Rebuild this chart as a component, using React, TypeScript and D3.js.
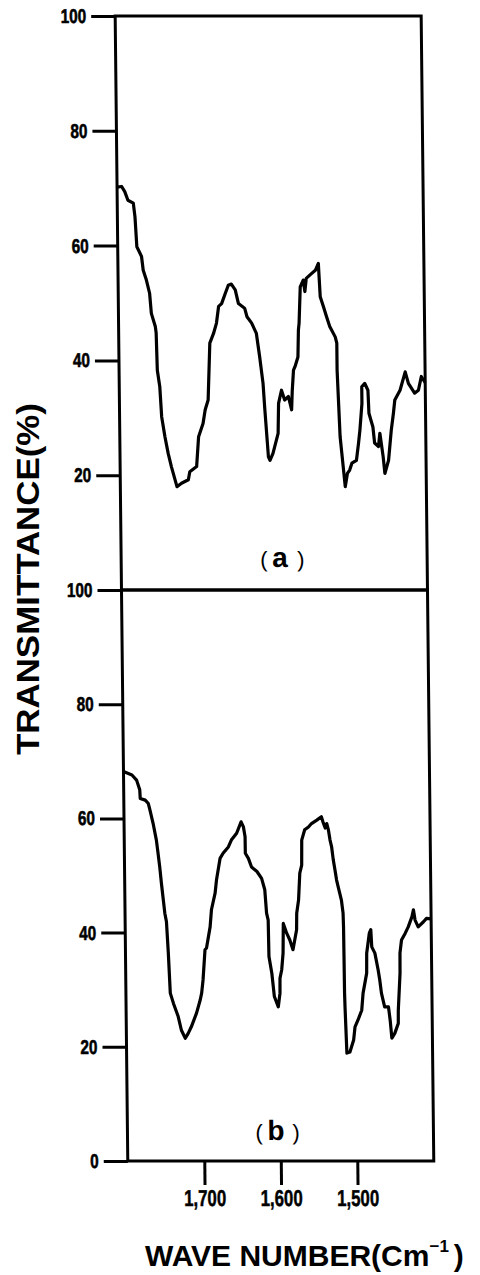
import * as d3 from "d3";
import { useEffect, useRef } from "react";

// spectrum (a): wave number (cm-1) and transmittance (%)
const waveA = [1800, 1794, 1790, 1786, 1779, 1777, 1775, 1769, 1767, 1763, 1759, 1757, 1752, 1751, 1750, 1747, 1745, 1741, 1737, 1733, 1726, 1720, 1711, 1709, 1700, 1697, 1691, 1688, 1684, 1681, 1676, 1672, 1669, 1665, 1660, 1656, 1652, 1647, 1643, 1635, 1632, 1626, 1620, 1616, 1612, 1610, 1606, 1604, 1600, 1593, 1592, 1588, 1584, 1579, 1575, 1574, 1572, 1570, 1566, 1565, 1564, 1562, 1558, 1556, 1554, 1549, 1542, 1538, 1536, 1532, 1528, 1524, 1517, 1515, 1515, 1512, 1510, 1506, 1503, 1500, 1497, 1491, 1488, 1486, 1483, 1483, 1479, 1475, 1474, 1469, 1467, 1462, 1460, 1456, 1454, 1449, 1445, 1442, 1440, 1433, 1426, 1422, 1414, 1409, 1405, 1400];
const transA = [70.2, 70.3, 69.4, 67.9, 67.4, 65.0, 59.8, 58.1, 55.7, 54.0, 51.7, 48.2, 45.9, 44.8, 38.3, 35.4, 30.2, 26.7, 23.8, 21.5, 18.0, 18.6, 19.2, 20.6, 21.5, 26.7, 29.0, 31.4, 33.1, 43.0, 44.7, 46.5, 49.4, 49.9, 51.7, 53.1, 53.3, 52.3, 49.9, 49.1, 47.6, 46.5, 44.7, 40.6, 36.0, 31.4, 23.2, 22.6, 23.8, 27.3, 32.5, 34.8, 33.1, 33.7, 31.4, 34.5, 38.3, 38.9, 40.6, 45.3, 46.5, 52.8, 54.0, 52.0, 54.3, 54.9, 55.7, 56.9, 51.1, 49.4, 47.6, 45.9, 44.1, 43.0, 38.3, 26.7, 23.8, 18.0, 20.3, 20.9, 22.1, 22.6, 25.6, 27.9, 32.5, 35.4, 36.0, 34.8, 30.8, 28.4, 25.6, 25.0, 27.3, 23.2, 20.3, 22.6, 27.9, 30.8, 33.1, 34.8, 38.0, 36.0, 34.3, 34.8, 37.2, 36.1];

// spectrum (b)
const waveB = [1800, 1789, 1783, 1779, 1778.5, 1772, 1768, 1766, 1762, 1758, 1756, 1754, 1752, 1748, 1746, 1744, 1742, 1738, 1732, 1728, 1723, 1719, 1715, 1708, 1703, 1701, 1699, 1696, 1694, 1689, 1687, 1682, 1680, 1677, 1675, 1671, 1664, 1660, 1653, 1647, 1644, 1642, 1641.9, 1638, 1634, 1627, 1621, 1617, 1615, 1613, 1612.5, 1609, 1606, 1601, 1598.6, 1598.4, 1596, 1594, 1593.3, 1589, 1585, 1581, 1576, 1575.6, 1573, 1571, 1568.4, 1568, 1564, 1559, 1555, 1548, 1542, 1540, 1537, 1535, 1533, 1531, 1529, 1527, 1525, 1523, 1521, 1517, 1515, 1514.6, 1514.4, 1514.2, 1513.8, 1512, 1508, 1503, 1501, 1497, 1492, 1490, 1485, 1484.7, 1481, 1479, 1478, 1474, 1470, 1468, 1466, 1462, 1457, 1455, 1453, 1449, 1444.4, 1444.2, 1441.4, 1441.2, 1439, 1434, 1430, 1425, 1423, 1421, 1417, 1410, 1406, 1400];
const transB = [68.2, 67.6, 66.7, 65.0, 63.5, 63.2, 62.6, 61.5, 59.1, 56.2, 53.9, 51.5, 48.6, 43.4, 41.9, 36.4, 29.4, 27.6, 25.3, 22.9, 21.5, 22.4, 23.5, 25.9, 28.2, 29.4, 31.7, 37.0, 37.3, 41.0, 44.0, 46.9, 49.2, 51.5, 53.0, 53.9, 55.0, 56.2, 57.4, 59.4, 58.5, 56.8, 53.9, 53.0, 51.5, 50.7, 49.5, 47.5, 43.4, 42.2, 35.8, 32.9, 28.8, 27.0, 29.4, 32.0, 33.5, 36.4, 41.6, 39.9, 38.7, 37.0, 40.5, 43.4, 45.7, 50.4, 51.8, 56.2, 58.0, 58.5, 59.1, 59.7, 60.3, 59.4, 58.3, 59.1, 58.0, 56.2, 55.0, 52.7, 51.0, 49.2, 48.0, 45.7, 43.4, 41.0, 35.8, 29.4, 27.0, 18.9, 19.1, 21.2, 23.5, 24.7, 26.4, 29.4, 32.9, 36.4, 39.9, 40.5, 37.5, 36.4, 33.5, 31.7, 29.4, 27.0, 27.0, 24.7, 21.5, 22.4, 24.1, 26.4, 32.9, 36.4, 38.7, 39.9, 41.0, 42.8, 44.0, 42.2, 41.0, 41.9, 42.5, 42.4];

const yTicksA = [20, 40, 60, 80, 100];
const yTicksB = [0, 20, 40, 60, 80, 100];
const xTicks = [1700, 1600, 1500];

// the scanned figure leans slightly to the right
const SKEW = (Math.atan(0.011) * 180) / Math.PI;
const FONT = "'Liberation Sans', Arial, sans-serif";

export default function App() {
  const ref = useRef<SVGSVGElement>(null);

  useEffect(() => {
    if (!ref.current) return;
    const svg = d3.select(ref.current);
    svg.selectAll("*").remove();

    const x = d3.scaleLinear().domain([1800, 1400]).range([115, 421]);
    const yA = d3.scaleLinear().domain([0, 100]).range([590, 16]);
    const yB = d3.scaleLinear().domain([0, 100]).range([1161, 590]);

    const g = svg.append("g").attr("transform", `skewX(${SKEW})`);

    const drawPanel = (
      y: d3.ScaleLinear<number, number>,
      wave: number[],
      trans: number[],
      ticks: number[]
    ) => {
      // frame
      g.append("rect")
        .attr("x", x(1800))
        .attr("y", y(100))
        .attr("width", x(1400) - x(1800))
        .attr("height", y(0) - y(100))
        .attr("fill", "none")
        .attr("stroke", "#000")
        .attr("stroke-width", 3);

      // y axis
      const ax = g
        .append("g")
        .attr("transform", `translate(${x(1800)},0)`)
        .call(d3.axisLeft(y).tickValues(ticks).tickSize(24).tickPadding(5));
      ax.select(".domain").remove();
      ax.selectAll("line").attr("stroke", "#000").attr("stroke-width", 3);
      ax.selectAll("text")
        .attr("fill", "#000")
        .attr("stroke", "#000")
        .attr("stroke-width", 0.6)
        .style("font-family", FONT)
        .style("font-weight", "bold")
        .style("font-size", "20px")
        .attr("textLength", (d: any) => String(d).length * 8.5)
        .attr("lengthAdjust", "spacingAndGlyphs");

      // spectrum
      const pts: [number, number][] = wave.map((w, i) => [w, trans[i]]);
      const line = d3
        .line<[number, number]>()
        .x((d) => x(d[0]))
        .y((d) => y(d[1]));
      g.append("path")
        .datum(pts)
        .attr("d", line)
        .attr("fill", "none")
        .attr("stroke", "#000")
        .attr("stroke-width", 3.2)
        .attr("stroke-linejoin", "round");
    };

    drawPanel(yA, waveA, transA, yTicksA);
    drawPanel(yB, waveB, transB, yTicksB);

    // x axis at the bottom
    const xa = g
      .append("g")
      .attr("transform", `translate(0,${yB(0)})`)
      .call(
        d3
          .axisBottom(x)
          .tickValues(xTicks)
          .tickSize(24)
          .tickPadding(5)
          .tickFormat(d3.format(","))
      );
    xa.select(".domain").remove();
    xa.selectAll("line").attr("stroke", "#000").attr("stroke-width", 3);
    xa.selectAll("text")
      .attr("fill", "#000")
      .attr("stroke", "#000")
      .attr("stroke-width", 0.5)
      .style("font-family", FONT)
      .style("font-weight", "bold")
      .style("font-size", "23px")
      .attr("textLength", 42)
      .attr("lengthAdjust", "spacingAndGlyphs");

    // panel tags
    const tag = (x0: number, base: number, letter: string) => {
      const t = g.append("g").style("font-family", FONT).attr("fill", "#000");
      t.append("text").attr("x", x0).attr("y", base).style("font-size", "22px").text("(");
      t.append("text")
        .attr("x", x0 + 12)
        .attr("y", base)
        .style("font-size", "28px")
        .style("font-weight", "bold")
        .text(letter);
      t.append("text").attr("x", x0 + 37).attr("y", base).style("font-size", "22px").text(")");
    };
    tag(254, 567, "a");
    tag(243, 1140, "b");

    // axis titles
    svg
      .append("text")
      .attr("transform", "translate(39,579) rotate(-90)")
      .attr("text-anchor", "middle")
      .style("font-family", FONT)
      .style("font-weight", "bold")
      .style("font-size", "31px")
      .attr("textLength", 352)
      .attr("lengthAdjust", "spacingAndGlyphs")
      .attr("fill", "#000")
      .text("TRANSMITTANCE(%)");

    const xt = svg
      .append("text")
      .attr("x", 145)
      .attr("y", 1266)
      .style("font-family", FONT)
      .style("font-weight", "bold")
      .style("font-size", "30px")
      .attr("fill", "#000");
    xt.append("tspan").text("WAVE NUMBER(Cm");
    xt.append("tspan").attr("dy", -14).style("font-size", "17px").text("\u22121");
    xt.append("tspan").attr("dy", 14).attr("dx", 5).text(")");
  }, []);

  return (
    <svg
      ref={ref}
      width={480}
      height={1275}
      style={{ position: "absolute", left: 0, top: 0, background: "#fff" }}
    />
  );
}
